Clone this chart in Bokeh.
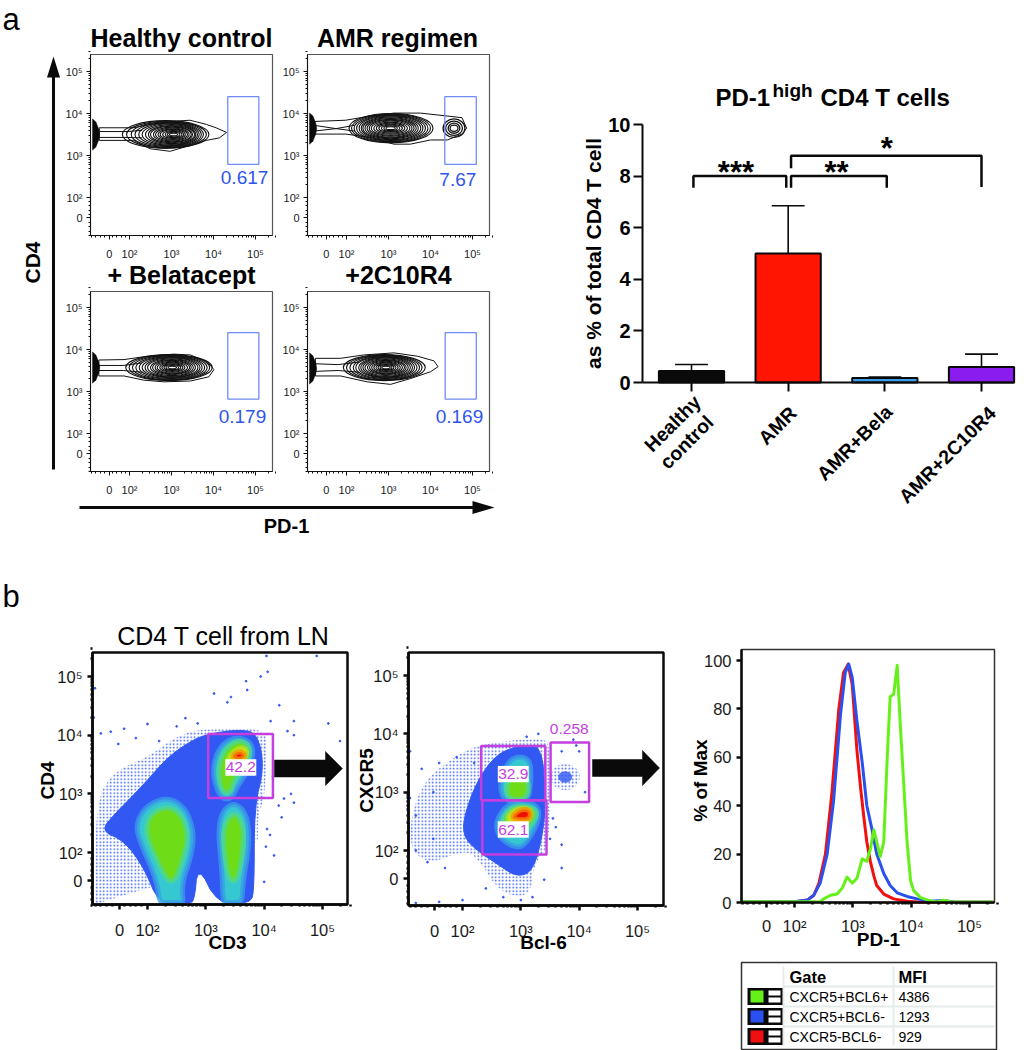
import math
from bokeh.plotting import figure
from bokeh.models import Range1d, LinearAxis, FixedTicker
from bokeh.core.properties import value
from bokeh.embed import file_html
from bokeh.resources import INLINE

# ---------- panel a: bar chart ----------
bar_groups = [0, 1, 2, 3]
bar_labels = ["Healthy", "control", "AMR", "AMR+Bela", "AMR+2C10R4"]
bar_label_x = [0.06, 0.19, 1.05, 2.04, 3.11]
bar_label_y = [-0.62, -1.4, -1.05, -1.0, -1.05]
bar_values = [0.45, 5.0, 0.17, 0.6]
bar_err_top = [0.7, 6.85, 0.21, 1.1]
bar_colors = ["#0a0a0a", "#ff1500", "#3a9fee", "#8a1cf0"]
bar_ticks = [0, 2, 4, 6, 8, 10]

# ---------- panel a: contour plots (flow axes, decades) ----------
flow_tick_pos = [1.52, 2, 3, 4, 5]
flow_tick_txt = ["0", "10²", "10³", "10⁴", "10⁵"]
contour_titles = ["Healthy control", "AMR regimen", "+ Belatacept", "+2C10R4"]
contour_pct = ["0.617", "7.67", "0.179", "0.169"]
pct_x = [4.74, 4.65, 4.69, 4.69]
pct_y = [2.48, 2.43, 2.41, 2.41]
gate_l = [4.34, 4.34, 4.34, 4.35]
gate_r = [5.08, 5.09, 5.08, 5.09]
gate_t = [4.40, 4.40, 4.40, 4.40]
gate_b = [2.79, 2.79, 2.82, 2.82]

outer_x = [
    [1.28, 2.10, 2.49, 3.12, 3.44, 3.83, 4.06, 4.31, 4.14, 3.83, 3.44, 2.97, 2.49, 2.10, 1.28],
    [1.22, 1.98, 2.57, 3.13, 3.76, 4.40, 4.75, 4.86, 4.75, 4.40, 4.00, 3.52, 3.13, 2.57, 1.98, 1.22],
    [1.27, 1.87, 2.42, 3.06, 3.45, 3.85, 4.01, 3.89, 3.45, 2.82, 2.34, 1.87, 1.27],
    [1.26, 1.86, 2.41, 3.13, 3.69, 4.08, 4.18, 4.00, 3.53, 3.05, 2.49, 1.86, 1.26],
]
outer_y = [
    [3.66, 3.66, 3.74, 3.82, 3.84, 3.74, 3.66, 3.55, 3.42, 3.36, 3.24, 3.10, 3.16, 3.36, 3.36],
    [3.81, 3.84, 3.94, 4.01, 4.01, 3.94, 3.90, 3.65, 3.51, 3.37, 3.37, 3.27, 3.27, 3.43, 3.51, 3.51],
    [3.75, 3.76, 3.84, 3.89, 3.87, 3.71, 3.52, 3.35, 3.25, 3.23, 3.27, 3.37, 3.37],
    [3.79, 3.79, 3.87, 3.92, 3.84, 3.73, 3.59, 3.47, 3.31, 3.17, 3.23, 3.37, 3.37],
]
tail_x = [
    [1.28, 1.95, 2.3], [1.22, 1.75, 2.2], [1.27, 1.85, 2.3], [1.26, 1.8, 2.3],
]
tail_y = [
    [3.57, 3.57, 3.6], [3.72, 3.64, 3.72], [3.62, 3.62, 3.68], [3.66, 3.64, 3.70],
]
tail2_y = [
    [3.43, 3.43, 3.42], [3.58, 3.64, 3.58], [3.5, 3.5, 3.46], [3.48, 3.5, 3.46],
]
wedge_x = [1.12, 1.20, 1.27, 1.29, 1.27, 1.20, 1.12]
wedge_dy = [0.37, 0.30, 0.12, 0.0, -0.12, -0.30, -0.37]
wedge_cy = [3.5, 3.64, 3.57, 3.55]

ell_cx = [
    [2.86, 2.88, 2.90, 2.92, 2.94, 2.96, 2.98, 3.0, 3.0, 3.02, 3.02, 3.03, 3.03, 3.04, 3.05, 3.05, 3.05],
    [3.06, 3.06, 3.06, 3.06, 3.06, 3.06, 3.05, 3.05, 3.05, 3.05, 3.05, 3.05, 3.05, 3.05, 3.05, 3.05, 3.05],
    [2.94, 2.95, 2.96, 2.97, 2.98, 2.99, 3.0, 3.0, 3.01, 3.01, 3.02, 3.02, 3.02, 3.02, 3.02, 3.02, 3.02],
    [2.90, 2.90, 2.91, 2.92, 2.92, 2.93, 2.93, 2.93, 2.93, 2.94, 2.94, 2.94, 2.94, 2.94, 2.94, 2.94, 2.94],
]
ell_cy = [3.5, 3.65, 3.57, 3.57]
ell_w = [
    [2.06, 1.90, 1.72, 1.58, 1.44, 1.32, 1.20, 1.10, 1.00, 0.90, 0.80, 0.70, 0.60, 0.50, 0.40, 0.30, 0.20],
    [2.00, 1.88, 1.76, 1.64, 1.52, 1.42, 1.32, 1.22, 1.12, 1.02, 0.92, 0.80, 0.68, 0.56, 0.44, 0.32, 0.22],
    [2.06, 1.92, 1.78, 1.64, 1.50, 1.38, 1.26, 1.14, 1.02, 0.92, 0.82, 0.72, 0.60, 0.50, 0.40, 0.30, 0.20],
    [1.95, 1.80, 1.66, 1.52, 1.40, 1.28, 1.18, 1.08, 0.98, 0.88, 0.78, 0.68, 0.58, 0.48, 0.38, 0.28, 0.20],
]
ell_h = [
    [0.66, 0.63, 0.60, 0.57, 0.54, 0.51, 0.47, 0.43, 0.39, 0.35, 0.31, 0.27, 0.23, 0.19, 0.15, 0.11, 0.06],
    [0.70, 0.67, 0.64, 0.61, 0.58, 0.54, 0.50, 0.46, 0.42, 0.38, 0.34, 0.29, 0.24, 0.19, 0.15, 0.11, 0.07],
    [0.62, 0.60, 0.58, 0.55, 0.52, 0.49, 0.46, 0.42, 0.38, 0.34, 0.30, 0.26, 0.22, 0.18, 0.14, 0.10, 0.06],
    [0.62, 0.60, 0.58, 0.55, 0.52, 0.49, 0.46, 0.42, 0.38, 0.34, 0.30, 0.26, 0.22, 0.18, 0.14, 0.10, 0.06],
]
amr_blob_w = [0.52, 0.40, 0.28, 0.19]
amr_blob_h = [0.44, 0.34, 0.24, 0.15]

# ---------- panel b: pseudocolour plot CD3 / CD4 ----------
s1_sparse_x = [1.11, 1.11, 1.43, 2.0, 2.46, 2.86, 3.49, 4.0, 4.06, 4.0, 3.89, 3.89, 1.11]
s1_sparse_y = [1.12, 2.88, 3.39, 3.62, 3.96, 4.10, 4.10, 4.10, 3.76, 2.88, 2.65, 1.97, 1.12]
s1_blue_x = [1.20, 1.43, 1.89, 2.34, 2.74, 3.03, 3.60, 3.89, 4.0, 3.83, 3.83, 3.77, 3.2, 2.86, 2.8, 2.63, 2.2, 1.94, 1.60]
s1_blue_y = [2.37, 2.65, 3.11, 3.62, 3.90, 4.02, 4.10, 4.02, 3.45, 2.77, 1.40, 1.12, 1.12, 1.8, 1.12, 1.12, 1.12, 1.74, 2.20]
s1_cyan = [
    ([2.34, 2.63, 2.77, 2.71, 2.57, 2.60, 2.23, 2.17, 1.94, 1.83, 2.0],
     [2.88, 2.71, 2.31, 1.91, 1.52, 1.12, 1.12, 1.57, 2.09, 2.43, 2.74]),
    ([3.49, 3.69, 3.73, 3.63, 3.60, 3.31, 3.29, 3.23, 3.29],
     [2.80, 2.60, 2.14, 1.57, 1.12, 1.12, 1.74, 2.31, 2.65]),
    ([3.60, 3.80, 3.74, 3.54, 3.43, 3.26, 3.14, 3.20, 3.37],
     [3.93, 3.79, 3.45, 3.16, 2.94, 2.97, 3.34, 3.68, 3.88]),
]
s1_green = [
    ([2.34, 2.57, 2.67, 2.57, 2.46, 2.34, 2.17, 2.0, 2.06],
     [2.74, 2.60, 2.26, 1.86, 1.57, 1.57, 1.91, 2.31, 2.60]),
    ([3.50, 3.63, 3.63, 3.54, 3.40, 3.31, 3.34],
     [2.65, 2.43, 2.09, 1.57, 1.57, 2.14, 2.48]),
    ([3.60, 3.74, 3.69, 3.49, 3.43, 3.29, 3.23, 3.29, 3.43],
     [3.88, 3.76, 3.51, 3.28, 3.05, 3.08, 3.39, 3.65, 3.82]),
]
s1_yellow = ([3.60, 3.71, 3.60, 3.49, 3.37, 3.43], [3.79, 3.71, 3.51, 3.45, 3.48, 3.68])
s1_red = ([3.59, 3.67, 3.60, 3.46, 3.51], [3.72, 3.66, 3.59, 3.62, 3.69])
s1_dots_x = [4.04, 4.06, 3.94, 3.69, 3.71, 3.43, 3.37, 3.14, 4.26, 4.51, 4.4, 4.11, 2.86, 2.65, 2.0, 1.6,
             1.37, 1.2, 1.1, 4.46, 4.34, 4.51, 4.3, 4.17, 4.03, 4.51, 4.9, 4.15, 4.25, 4.1, 4.05, 1.5,
             1.8, 2.2, 2.5, 5.1, 5.3, 1.08, 4.0]
s1_dots_y = [5.35, 5.08, 5.0, 4.92, 4.77, 4.65, 4.56, 4.71, 4.51, 4.24, 4.07, 4.24, 4.2, 4.29, 4.19, 4.11,
             4.06, 4.03, 4.8, 3.0, 2.92, 2.85, 2.6, 1.95, 2.1, 4.0, 5.35, 3.3, 2.8, 2.3, 2.4, 3.85,
             3.95, 3.9, 4.15, 4.2, 3.9, 4.3, 1.5]
s1_gate = (3.04, 4.15, 4.02, 2.93)
s1_label = ("42.2", 3.60, 3.45)

# ---------- panel b: pseudocolour plot Bcl-6 / CXCR5 ----------
s2_sparse_x = [1.11, 1.34, 1.85, 2.31, 3.39, 3.51, 3.51, 3.22, 3.16, 2.65, 2.25, 2.02, 1.45, 1.11]
s2_sparse_y = [2.57, 3.20, 3.60, 3.83, 3.94, 3.77, 2.11, 1.77, 1.20, 1.26, 1.89, 2.0, 1.77, 2.0]
s2_blue_x = [2.02, 2.25, 2.59, 2.99, 3.36, 3.42, 3.39, 3.22, 2.94, 2.59, 2.25, 2.02]
s2_blue_y = [2.57, 3.20, 3.66, 3.80, 3.80, 2.91, 2.34, 1.66, 1.54, 1.77, 2.0, 2.23]
s2_cyan = [
    ([2.82, 3.14, 3.16, 3.11, 2.74, 2.65], [3.57, 3.57, 3.20, 2.86, 2.86, 3.14]),
    ([2.59, 2.82, 3.22, 3.31, 3.11, 2.94, 2.65], [2.51, 2.80, 2.80, 2.57, 2.17, 2.06, 2.23]),
]
s2_green = [
    ([2.79, 3.11, 3.11, 2.76], [3.26, 3.26, 2.89, 2.89]),
    ([2.68, 2.85, 3.16, 3.28, 3.02, 2.76], [2.49, 2.74, 2.74, 2.60, 2.29, 2.29]),
]
s2_yellow = ([2.76, 2.91, 3.16, 3.16, 2.96], [2.54, 2.71, 2.71, 2.54, 2.43])
s2_red = ([2.85, 2.99, 3.15, 3.15, 2.96], [2.57, 2.70, 2.69, 2.54, 2.53])
s2_blob = (3.76, 3.26, 0.50, 0.45)
s2_blob_core = (3.76, 3.26, 0.24, 0.20)
s2_dots_x = [1.1, 1.3, 1.6, 1.9, 1.2, 1.4, 1.7, 1.5, 2.4, 2.7, 3.0, 3.2, 2.0, 1.6, 1.2, 3.4, 3.7, 3.95,
             4.0, 3.7, 4.1, 3.55, 3.6, 3.5, 3.7, 2.2, 1.1, 1.2, 1.5, 3.3, 3.1, 3.9]
s2_dots_y = [3.7, 3.4, 3.5, 3.6, 2.0, 1.8, 1.7, 2.2, 1.35, 1.2, 1.15, 1.2, 1.15, 1.12, 1.1, 1.5, 1.7, 3.8,
             3.7, 3.7, 3.0, 2.55, 2.4, 2.2, 2.1, 3.5, 2.9, 2.6, 3.0, 4.0, 3.95, 3.9]
s2_gates_l = [2.32, 2.34, 3.51]
s2_gates_r = [3.42, 3.44, 4.17]
s2_gates_t = [3.79, 2.86, 3.85]
s2_gates_b = [2.86, 1.93, 2.83]
s2_labels = [("32.9", 2.87, 3.31), ("62.1", 2.87, 2.36)]
s2_label_free = ("0.258", 3.83, 4.09)

# ---------- panel b: histogram ----------
blue_x = [1.09, 1.99, 2.22, 2.33, 2.44, 2.56, 2.67, 2.79, 2.87, 2.93, 2.99, 3.07, 3.16, 3.24, 3.33, 3.41,
          3.53, 3.64, 3.76, 3.93, 4.10, 4.33, 4.56, 4.73, 5.41]
blue_y = [0.3, 0.3, 1, 3, 8, 20, 42, 78, 95, 98.5, 93, 75, 58, 40, 30, 20, 12, 7, 4, 2.5, 1.5, 0.5, 0.8, 0.2, 0.1]
red_x = [1.09, 1.99, 2.22, 2.33, 2.42, 2.53, 2.64, 2.76, 2.84, 2.92, 2.99, 3.07, 3.13, 3.19, 3.24, 3.30,
         3.36, 3.41, 3.53, 3.70, 3.93, 4.16, 5.41]
red_y = [0.2, 0.2, 1, 3, 8, 20, 45, 80, 95, 98.5, 90, 63, 48, 35, 25, 17, 11, 7, 3.5, 1.5, 0.5, 0.1, 0.1]
green_x = [1.09, 2.44, 2.50, 2.62, 2.73, 2.82, 2.90, 2.99, 3.07, 3.16, 3.24, 3.30, 3.36, 3.41, 3.47, 3.53,
           3.59, 3.64, 3.70, 3.76, 3.81, 3.87, 3.93, 3.99, 4.04, 4.16, 4.33, 4.44, 4.56, 4.67, 4.78, 5.41]
green_y = [0.3, 0.3, 1.5, 3, 3.5, 6, 10.5, 8, 10, 18, 17, 22, 30, 25, 19, 25, 60, 85, 86, 98, 75, 50, 25, 9, 5,
           2, 0.7, 0.2, 1, 0.3, 0.2, 0.2]
hist_ticks = [0, 20, 40, 60, 80, 100]

table_gates = ["CXCR5+BCL6+", "CXCR5+BCL6-", "CXCR5-BCL6-"]
table_mfi = ["4386", "1293", "929"]
table_colors = ["#66f01a", "#2a50f0", "#f01010"]

# ---------- canvas ----------
W, HH = 1030, 1050
p = figure(width=W, height=HH, output_backend="svg", toolbar_location=None,
           x_range=Range1d(0, W), y_range=Range1d(HH, 0),
           x_axis_location=None, y_axis_location=None,
           min_border=0, min_border_left=0, min_border_right=0, min_border_top=0, min_border_bottom=0)
p.outline_line_color = None
p.xgrid.visible = False
p.ygrid.visible = False

ARIAL = "Liberation Sans"


def txt(x, y, s, size, bold=False, color="#000000", angle=0.0, align="center", base="middle", xr="default", yr="default"):
    return p.text([x], [y], text=[s], text_font=value(ARIAL), text_font_size=f"{size}px",
                  text_font_style="bold" if bold else "normal", text_color=color, angle=angle,
                  text_align=align, text_baseline=base, x_range_name=xr, y_range_name=yr)


class Panel:
    def __init__(self, name, xa, xb, ya, yb):
        self.xr = "x" + name
        self.yr = "y" + name
        self.xa, self.xb, self.ya, self.yb = xa, xb, ya, yb
        p.extra_x_ranges[self.xr] = Range1d(self.xv(0), self.xv(W))
        p.extra_y_ranges[self.yr] = Range1d(self.yv(HH), self.yv(0))

    def xv(self, px):
        return self.xa[1] + (px - self.xa[0]) * (self.xb[1] - self.xa[1]) / (self.xb[0] - self.xa[0])

    def yv(self, px):
        return self.ya[1] + (px - self.ya[0]) * (self.yb[1] - self.ya[1]) / (self.yb[0] - self.ya[0])

    @property
    def k(self):
        return dict(x_range_name=self.xr, y_range_name=self.yr)


minor_flow = [1.1, 1.2, 1.3, 1.4, 1.6, 1.7, 1.8, 1.9] + [d + math.log10(m) for d in (2, 3, 4) for m in range(2, 10)] + [5 + math.log10(m) for m in (2, 3)]


def flow_axes(P, frame, size, width, tick, standoff_x, standoff_y, yticks=None, ylabels=None, color="#111111"):
    left, right, top, bottom = frame
    xa = LinearAxis(x_range_name=P.xr, y_range_name=P.yr, fixed_location=P.yv(bottom),
                    bounds=(P.xv(left), P.xv(right)),
                    ticker=FixedTicker(ticks=flow_tick_pos, minor_ticks=minor_flow),
                    major_label_overrides=dict(zip(flow_tick_pos, flow_tick_txt)))
    ya = LinearAxis(x_range_name=P.xr, y_range_name=P.yr, fixed_location=P.xv(left),
                    bounds=(P.yv(bottom), P.yv(top)),
                    ticker=FixedTicker(ticks=yticks or flow_tick_pos, minor_ticks=[] if yticks else minor_flow),
                    major_label_overrides=dict(zip(yticks or flow_tick_pos, ylabels or flow_tick_txt)))
    for ax, st in ((xa, standoff_x), (ya, standoff_y)):
        ax.axis_line_color = color
        ax.axis_line_width = width
        ax.major_tick_line_color = color
        ax.minor_tick_line_color = color
        ax.major_tick_line_width = width
        ax.minor_tick_line_width = width
        ax.major_tick_out = tick
        ax.major_tick_in = 0
        ax.minor_tick_out = max(2, tick // 2)
        ax.minor_tick_in = 0
        ax.major_label_text_font = ARIAL
        ax.major_label_text_font_size = f"{size}px"
        ax.major_label_text_color = "#1a1a1a"
        ax.major_label_standoff = st
    p.add_layout(xa, "below")
    p.add_layout(ya, "left")


def arrow_h(x0, x1, xh, y, half, hh):
    p.patch([x0, xh, xh, x1, xh, xh, x0], [y - half, y - half, y - hh, y, y + hh, y + half, y + half],
            fill_color="#0a0a0a", line_color="#0a0a0a", line_width=0.5)


def chaikin(xs, ys, n=2):
    for _ in range(n):
        m = len(xs)
        nx, ny = [], []
        for i in range(m):
            j = (i + 1) % m
            nx += [0.75 * xs[i] + 0.25 * xs[j], 0.25 * xs[i] + 0.75 * xs[j]]
            ny += [0.75 * ys[i] + 0.25 * ys[j], 0.25 * ys[i] + 0.75 * ys[j]]
        xs, ys = nx, ny
    return xs, ys


# ---------- contour panels ----------
frames = [(90, 272, 54, 235), (307, 489, 54, 235), (90, 272, 291, 471), (307, 489, 291, 471)]
xmaps = [((129, 2), (255, 5)), ((346, 2), (472, 5)), ((129, 2), (255, 5)), ((346, 2), (472, 5))]
ymaps = [((197, 2), (71, 5)), ((197, 2), (71, 5)), ((433, 2), (307, 5)), ((433, 2), (307, 5))]

for i in range(4):
    P = Panel(f"c{i}", xmaps[i][0], xmaps[i][1], ymaps[i][0], ymaps[i][1])
    L, R, T, B = frames[i]
    p.quad(left=[L], right=[R], top=[T], bottom=[B], fill_color=None, line_color="#555555", line_width=1.2)
    p.patch(outer_x[i], outer_y[i], fill_color=None, line_color="#111111", line_width=1.0, **P.k)
    p.line(tail_x[i], tail_y[i], line_color="#111111", line_width=1.0, **P.k)
    p.line(tail_x[i], tail2_y[i], line_color="#111111", line_width=1.0, **P.k)
    p.ellipse(ell_cx[i], [ell_cy[i]] * len(ell_cx[i]), width=ell_w[i], height=ell_h[i], fill_color=None,
              line_color="#111111", line_width=1.1, **P.k)
    if i == 1:
        n = len(amr_blob_w)
        p.ellipse([4.56] * n, [3.65] * n, width=amr_blob_w, height=amr_blob_h, fill_color=None,
                  line_color="#111111", line_width=1.3, **P.k)
    p.patch(wedge_x, [wedge_cy[i] + d for d in wedge_dy], fill_color="#0a0a0a", line_color="#0a0a0a", line_width=0.5, **P.k)
    p.quad(left=[gate_l[i]], right=[gate_r[i]], top=[gate_t[i]], bottom=[gate_b[i]], fill_color=None,
           line_color="#6f8cf5", line_width=1.3, **P.k)
    txt(pct_x[i], pct_y[i], contour_pct[i], 19, color="#2f55f0", xr=P.xr, yr=P.yr)
    txt((L + R) / 2 if i != 1 else 397, T - 17, contour_titles[i], 25, bold=True)
    flow_axes(P, frames[i], 11, 1, 4, 8, 4)

txt(2, 19, "a", 31, align="left")
txt(2, 596, "b", 31, align="left")
p.line([53, 53], [469, 70], line_color="#0a0a0a", line_width=3)
p.patch([53, 46.5, 59.5], [56, 77, 77], fill_color="#0a0a0a", line_color=None)
p.line([79, 475], [507, 507], line_color="#0a0a0a", line_width=3)
p.patch([494, 472, 472], [507, 500.5, 513.5], fill_color="#0a0a0a", line_color=None)
txt(32, 262, "CD4", 21, bold=True, angle=math.pi / 2)
txt(286, 525, "PD-1", 20, bold=True)

# ---------- bar chart ----------
B = Panel("bar", (691, 0), (981, 3), (382, 0), (124, 10))
bw = 0.675
p.vbar(x=bar_groups, top=bar_values, bottom=0, width=bw, fill_color=bar_colors, line_color="#0a0a0a", line_width=2, **B.k)
p.segment(bar_groups, bar_values, bar_groups, bar_err_top, line_color="#0a0a0a", line_width=1.6, **B.k)
p.segment([g - 0.17 for g in bar_groups], bar_err_top, [g + 0.17 for g in bar_groups], bar_err_top,
          line_color="#0a0a0a", line_width=1.6, **B.k)
bx = LinearAxis(fixed_location=0, bounds=(B.xv(642), B.xv(1014)), ticker=FixedTicker(ticks=bar_groups),
                major_label_overrides={g: "" for g in bar_groups}, **B.k)
by = LinearAxis(fixed_location=B.xv(642), bounds=(0, 10), ticker=FixedTicker(ticks=bar_ticks), **B.k)
for ax in (bx, by):
    ax.axis_line_width = 2
    ax.axis_line_color = "#0a0a0a"
    ax.major_tick_line_width = 2
    ax.major_tick_line_color = "#0a0a0a"
    ax.major_tick_out = 9
    ax.major_tick_in = 0
    ax.minor_tick_out = 0
    ax.minor_tick_in = 0
    ax.major_label_text_font = ARIAL
    ax.major_label_text_font_style = "bold"
    ax.major_label_text_color = "#000000"
by.major_label_text_font_size = "20px"
by.major_label_standoff = 3
p.add_layout(bx, "below")
p.add_layout(by, "left")
for lab, lx, ly in zip(bar_labels, bar_label_x, bar_label_y):
    txt(lx, ly, lab, 19.5, bold=True, angle=math.pi / 4, align="right", xr=B.xr, yr=B.yr)
for xs, ys in (([0.02, 0.02, 0.98, 0.98], [7.55, 8.0, 8.0, 7.55]),
               ([1.03, 1.03, 2.02, 2.02], [7.55, 8.0, 8.0, 7.55]),
               ([1.03, 1.03, 3.0, 3.0], [8.3, 8.79, 8.79, 7.58])):
    p.line(xs, ys, line_color="#0a0a0a", line_width=2.5, **B.k)
txt(0.46, 8.14, "***", 31, bold=True, xr=B.xr, yr=B.yr)
txt(1.5, 8.14, "**", 31, bold=True, xr=B.xr, yr=B.yr)
txt(2.02, 9.07, "*", 31, bold=True, xr=B.xr, yr=B.yr)
txt(593, 253, "as % of total CD4 T cell", 21, bold=True, angle=math.pi / 2)
txt(715, 97, "PD-1", 24, bold=True, align="left")
txt(772, 90, "high", 19, bold=True, align="left")
txt(820, 97, "CD4 T cells", 24, bold=True, align="left")

# ---------- pseudocolour plots ----------
BLUE, CYAN, GREEN, YELLOW, RED = "#3158f2", "#35c8d0", "#6fdc18", "#f4e400", "#f01000"
MAG = "#c43ee0"


def poly(P, xs, ys, color, edge=None, grow=1.0):
    sx, sy = chaikin(xs, ys)
    cx, cy = sum(sx) / len(sx), sum(sy) / len(sy)
    floor = P.yv(902)
    sx = [cx + (v - cx) * grow for v in sx]
    sy = [max(floor, cy + (v - cy) * grow) for v in sy]
    p.patch(sx, sy, fill_color=color, line_color=edge or color, line_width=5 if edge else 1, line_alpha=0.75 if edge else 1, **P.k)


def stipple(P, xs, ys):
    sx, sy = chaikin(xs, ys)
    p.patch(sx, sy, fill_alpha=0, line_alpha=0, hatch_pattern="dot", hatch_color=BLUE, hatch_scale=3.5, hatch_weight=1.1, **P.k)


f1 = (92, 347, 652, 904)
S1 = Panel("s1", (147, 2), (322, 5), (852, 2), (676, 5))
stipple(S1, s1_sparse_x, s1_sparse_y)
poly(S1, s1_blue_x, s1_blue_y, BLUE)
for xs, ys in s1_cyan:
    poly(S1, xs, ys, CYAN, "#3a9ce8", 1.08)
for xs, ys in s1_green:
    poly(S1, xs, ys, GREEN, "#4fd890", 1.1)
poly(S1, *s1_yellow, YELLOW, "#b8e020", 1.1)
poly(S1, *s1_red, RED, "#f49000", 1.1)
p.scatter(s1_dots_x, s1_dots_y, size=1.8, color=BLUE, **S1.k)
p.quad(left=[f1[0]], right=[f1[1]], top=[f1[2]], bottom=[f1[3]], fill_color=None, line_color="#0a0a0a", line_width=2.5)
p.quad(left=[s1_gate[0]], right=[s1_gate[1]], top=[s1_gate[2]], bottom=[s1_gate[3]], fill_color=None, line_color=MAG, line_width=2.5, **S1.k)
p.rect([s1_label[1]], [s1_label[2]], width=0.53, height=0.28, fill_color="white", line_color=None, **S1.k)
txt(s1_label[1], s1_label[2], s1_label[0], 15.5, color=MAG, xr=S1.xr, yr=S1.yr)
flow_axes(S1, f1, 16.5, 2.5, 5, 11, 5, color="#0a0a0a")
txt(223, 635, "CD4 T cell from LN", 25)
txt(47, 780, "CD4", 19, bold=True, angle=math.pi / 2)
txt(227, 942, "CD3", 19, bold=True)
arrow_h(274, 342, 325, 768, 8.5, 17)

f2 = (408, 663, 652, 905)
S2 = Panel("s2", (462, 2), (637, 5), (850, 2), (675, 5))
stipple(S2, s2_sparse_x, s2_sparse_y)
p.ellipse([s2_blob[0]], [s2_blob[1]], width=s2_blob[2], height=s2_blob[3], fill_alpha=0, line_alpha=0,
          hatch_pattern="dot", hatch_color=BLUE, hatch_scale=3.5, hatch_weight=1.1, **S2.k)
p.ellipse([s2_blob_core[0]], [s2_blob_core[1]], width=s2_blob_core[2], height=s2_blob_core[3], fill_color=BLUE, fill_alpha=0.8, line_color=None, **S2.k)
poly(S2, s2_blue_x, s2_blue_y, BLUE)
for xs, ys in s2_cyan:
    poly(S2, xs, ys, CYAN, "#3a9ce8", 1.08)
for xs, ys in s2_green:
    poly(S2, xs, ys, GREEN, "#4fd890", 1.1)
poly(S2, *s2_yellow, YELLOW, "#b8e020", 1.1)
poly(S2, *s2_red, RED, "#f49000", 1.1)
p.scatter(s2_dots_x, s2_dots_y, size=1.8, color=BLUE, **S2.k)
p.quad(left=[f2[0]], right=[f2[1]], top=[f2[2]], bottom=[f2[3]], fill_color=None, line_color="#0a0a0a", line_width=2.5)
p.quad(left=s2_gates_l, right=s2_gates_r, top=s2_gates_t, bottom=s2_gates_b, fill_color=None, line_color=MAG, line_width=2.5, **S2.k)
for s, lx, ly in s2_labels:
    p.rect([lx], [ly], width=0.53, height=0.28, fill_color="white", line_color=None, **S2.k)
    txt(lx, ly, s, 15.5, color=MAG, xr=S2.xr, yr=S2.yr)
txt(s2_label_free[1], s2_label_free[2], s2_label_free[0], 15.5, color=MAG, xr=S2.xr, yr=S2.yr)
flow_axes(S2, f2, 16.5, 2.5, 5, 11, 5, color="#0a0a0a")
txt(366, 780, "CXCR5", 19, bold=True, angle=math.pi / 2)
txt(543, 942, "Bcl-6", 19, bold=True)
arrow_h(592, 659, 642, 767.5, 8.5, 17.5)

# ---------- histogram ----------
f3 = (741, 994, 649, 902)
H = Panel("h", (794, 2), (969, 5), (902, 0), (660, 100))
p.quad(left=[f3[0]], right=[f3[1]], top=[f3[2]], bottom=[f3[3]], fill_color=None, line_color="#333333", line_width=1.5)
p.line(red_x, red_y, line_color="#f01010", line_width=3, line_join="round", **H.k)
p.line(blue_x, blue_y, line_color="#2a50f0", line_width=3, line_join="round", **H.k)
p.line(green_x, green_y, line_color="#66f01a", line_width=3, line_join="round", **H.k)
flow_axes(H, f3, 16.5, 2.5, 5, 9, 5, yticks=hist_ticks, ylabels=[str(t) for t in hist_ticks], color="#0a0a0a")
txt(700, 780, "% of Max", 19, bold=True, angle=math.pi / 2)
txt(878, 939, "PD-1", 19, bold=True)

# ---------- gate table ----------
tb_l, tb_r, tb_t, tb_b = 741, 996, 962, 1049
p.quad(left=[tb_l], right=[tb_r], top=[tb_t], bottom=[tb_b], fill_color="white", line_color="#333333", line_width=1.5)
p.segment([783, 893], [966, 966], [783, 893], [1045, 1045], line_color="#e4ecea", line_width=2)
p.segment([783, 783, 783], [986, 1006, 1026], [994, 994, 994], [986, 1006, 1026], line_color="#e4ecea", line_width=2)
txt(789, 976, "Gate", 16.5, bold=True, align="left")
txt(898, 976, "MFI", 16.5, bold=True, align="left")
for i, (g, m, c) in enumerate(zip(table_gates, table_mfi, table_colors)):
    yc = 996 + 20 * i
    p.quad(left=[747], right=[782], top=[yc - 8.5], bottom=[yc + 8.5], fill_color="#0a0a0a", line_color=None)
    p.quad(left=[750], right=[763], top=[yc - 6], bottom=[yc + 6], fill_color=c, line_color=None)
    p.quad(left=[768, 768], right=[780, 780], top=[yc - 6, yc + 1], bottom=[yc - 1, yc + 6], fill_color="white", line_color=None)
    txt(789, yc, g, 14, align="left")
    txt(898, yc, m, 14, align="left")

open("out.html", "w").write(file_html(p, INLINE))
